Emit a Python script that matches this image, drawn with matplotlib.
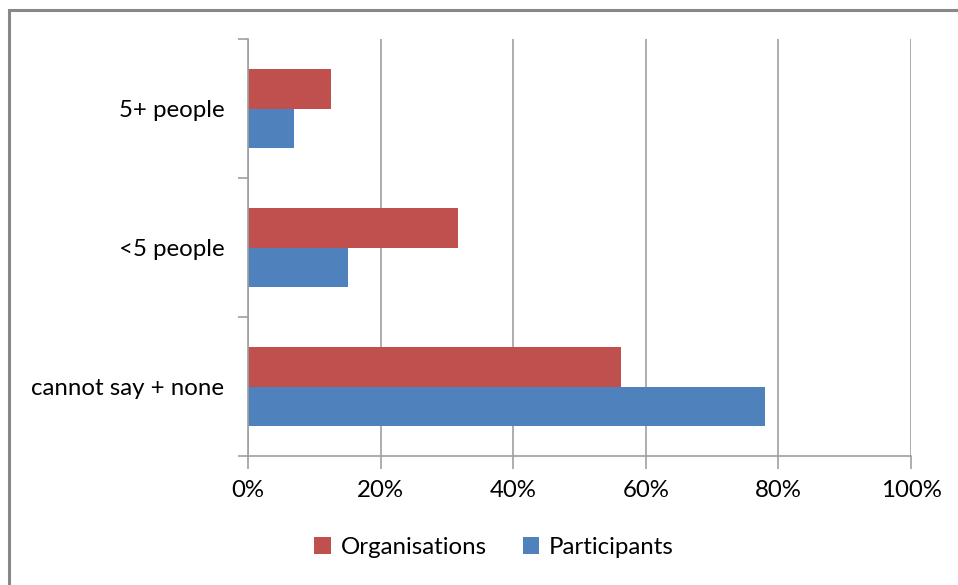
import matplotlib.pyplot as plt
import matplotlib.patches as mpatches
import numpy as np

categories = ["cannot say + none", "<5 people", "5+ people"]
organisations = [56.2, 31.6, 12.5]
participants = [78.0, 15.1, 6.9]
xticks = [0, 20, 40, 60, 80, 100]

red = "#C0504D"
blue = "#4F81BD"
grey = "#A0A0A0"
fs = 17.3

plt.rcParams["font.family"] = ["Lato", "DejaVu Sans"]

W, H = 958, 585
fig = plt.figure(figsize=(W / 100, H / 100), dpi=100)

# figure border (only top and left visible in the reference)
fig.patches.append(mpatches.Rectangle((9 / W, -0.1), 1.2, 1 - 10 / H + 0.1,
                                      transform=fig.transFigure, fill=False,
                                      edgecolor="#888888", linewidth=2.2))

ax = fig.add_axes([248 / W, 1 - 456 / H, (911 - 248) / W, (456 - 39) / H])

y = np.arange(len(categories))
h = 0.285
ax.barh(y + h / 2, organisations, height=h, color=red, label="Organisations")
ax.barh(y - h / 2, participants, height=h, color=blue, label="Participants")

ax.set_xlim(0, 100)
ax.set_ylim(-0.5, len(categories) - 0.5)
ax.set_xticks(xticks)
ax.set_xticklabels([f"{v}%" for v in xticks], fontsize=fs)
ax.set_yticks(y)
ax.set_yticklabels(categories, fontsize=fs)
ax.set_yticks(np.arange(len(categories) + 1) - 0.5, minor=True)

ax.grid(axis="x", color=grey, linewidth=1.2)
ax.set_axisbelow(True)
for s in ["top", "right"]:
    ax.spines[s].set_visible(False)
for s in ["left", "bottom"]:
    ax.spines[s].set_color(grey)
    ax.spines[s].set_linewidth(1.2)

ax.tick_params(axis="y", which="major", length=0, pad=17)
ax.tick_params(axis="y", which="minor", length=7, color=grey, width=1.2)
ax.tick_params(axis="x", length=9, color=grey, width=1.2, pad=8)

handles, labels = ax.get_legend_handles_labels()
fig.legend(handles, labels, loc="center", bbox_to_anchor=(494 / W, 1 - 547 / H),
           ncol=2, frameon=False, fontsize=fs, handlelength=0.7, handleheight=0.7,
           handletextpad=0.4, columnspacing=1.5)

fig.savefig("out.png", dpi=100)
